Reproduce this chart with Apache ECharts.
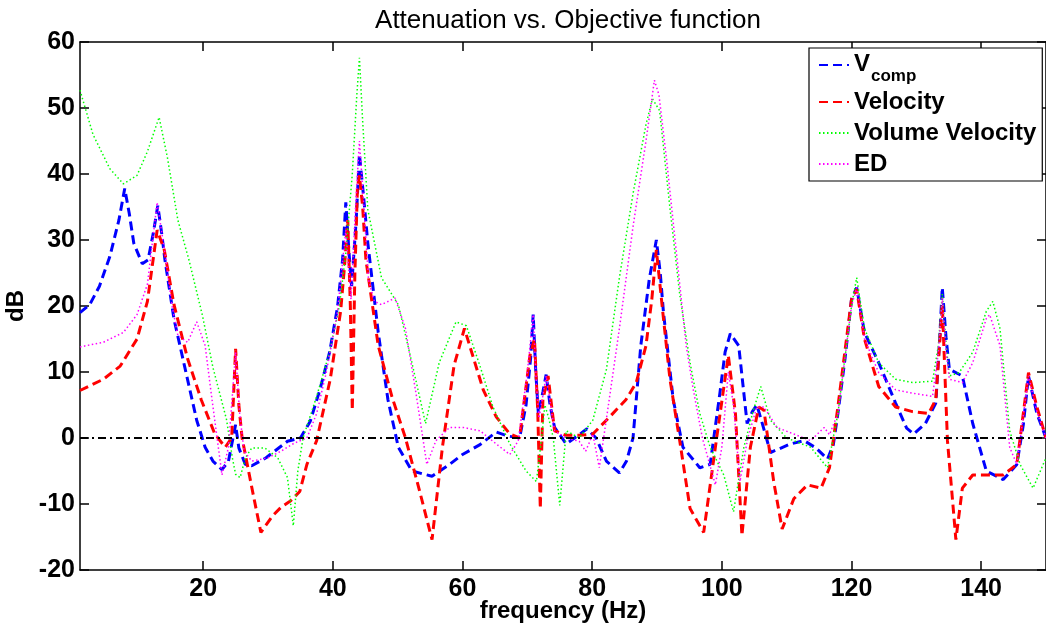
<!DOCTYPE html>
<html><head><meta charset="utf-8">
<script src="https://cdn.jsdelivr.net/npm/echarts@6/dist/echarts.min.js"></script>
<style>html,body{margin:0;padding:0;background:#fff}#c{width:1046px;height:631px}</style>
</head><body><div id="c"></div>
<script>
const FONT = "'Liberation Sans', Arial, Helvetica, sans-serif";
const xTicks = [20, 40, 60, 80, 100, 120, 140];
const seriesNames = ['Vcomp', 'Velocity', 'Volume Velocity', 'ED'];

// [frequency (Hz), dB]
const vcomp = [[1,19],[2.5,20.2],[4,23],[5.6,27.5],[7,33],[7.9,37.8],[8.6,34],[9.3,29.5],[10.6,26.4],[11.5,27],[12.3,31],[13,35.2],[13.6,31],[14.1,27],[15.5,18],[17.1,11],[19,2.7],[20.3,-1.4],[21.5,-3.5],[22.9,-4.8],[23.9,-3.5],[24.6,0],[25,2],[25.5,-1.5],[26.5,-4],[27.5,-4.2],[29.7,-3],[31.8,-1.4],[33,-0.5],[35,0],[36.5,2.5],[38,7.3],[39.5,13],[40.7,19.7],[41.5,27],[42,35.7],[42.5,28],[42.9,23],[43.6,33],[44.1,43],[44.7,37],[45.4,29.5],[47,16],[48.5,5.8],[50.1,-1.4],[52.2,-5],[55.3,-5.8],[58,-4],[60,-2.5],[62.7,-1],[65.2,0.9],[67,0.3],[68.8,0],[69.8,5],[70.5,12],[70.9,18.7],[71.3,10],[71.7,3.7],[72.4,7],[72.9,9.6],[73.5,5],[74.2,1.6],[76,-0.9],[78,0.5],[79.2,1.4],[80.6,0],[82.2,-3.5],[84.2,-5.3],[85.3,-3.5],[86.3,0],[87.5,14],[88.8,24],[89.9,30],[90.5,25],[91,19],[92.5,5.8],[94,-1.4],[96.6,-4.5],[98.2,-4],[99.7,6.8],[100.5,13],[101.3,15.8],[102.6,14],[103.9,2.2],[104.7,4],[105.4,5],[106.3,2],[107.5,-2.2],[110.6,-0.9],[112.7,-0.4],[114.5,-1.5],[116.3,-3.2],[117.2,-1],[117.9,3.7],[119,12],[120,21],[120.8,22.8],[122,16],[124.2,11.4],[126.8,5.3],[128.5,1.5],[129.6,0.6],[131.4,2.2],[133,5.3],[133.6,15],[134,22.8],[134.6,15],[135.1,10.4],[137.1,9.4],[138.7,2.2],[140.8,-5],[143.4,-6.3],[145.5,-4],[146.5,2],[147.3,9.4],[148.6,3.7],[150,0]];

const velocity = [[1,7.2],[4.6,8.9],[7.2,10.9],[9.8,15],[11.4,20.7],[12.9,31.5],[14,28.5],[15.5,20.2],[17.6,12],[19.7,5.8],[21.8,0.6],[23.4,-1.4],[24.4,0],[25,13.5],[25.5,5],[26,0],[27.6,-8],[28.9,-14.3],[30.7,-11.8],[32,-10.5],[33.5,-9.5],[34.9,-8.1],[36,-4],[37.5,-0.4],[39.6,8.9],[41.2,19.2],[41.8,26],[42.3,33],[42.7,20],[43,4.2],[43.4,25],[43.8,38],[44.1,39.8],[44.6,35],[45.1,27],[47,14],[49.1,6.3],[51.2,0],[53.4,-8.1],[55.3,-15.4],[56.9,-1.4],[58.7,11],[60.3,16.6],[61.1,14],[63.2,7.3],[65.2,3.2],[67.3,0.6],[68.8,0],[70.4,12.5],[71.1,15],[71.6,4.2],[72,-10.7],[72.4,5.8],[73.2,9.4],[74.2,1.1],[76,0.4],[78,0.4],[80.1,0.6],[82.7,3.2],[85.2,5.8],[86.8,8.4],[88.3,14],[89.2,21],[89.9,28.5],[90.9,19],[92,8.9],[93.5,-0.4],[95.1,-10.7],[97.2,-14.3],[99.2,0],[101,12.5],[102.1,3.7],[103.1,-14.8],[104.4,-1.4],[105.7,4.7],[106.5,4.2],[108,-6.6],[109.3,-13.8],[111.1,-9.2],[113.2,-7.1],[115.3,-7.6],[116.6,-4.5],[117.9,4.7],[120,21],[120.8,22.5],[122,15],[124.2,7.8],[126.8,4.7],[129.4,4],[131.9,3.7],[133,5.8],[134,20.2],[134.8,-0.4],[136.1,-15.4],[137.1,-7.6],[138.7,-5.6],[140.8,-5.6],[143.4,-5.6],[145.5,-4],[147.3,9.9],[148.6,4.7],[150,0]];

const volumeVelocity = [[1,52.7],[3,46],[5.6,40.8],[7.7,38.5],[9.8,39.8],[11.4,43.4],[13.2,48.6],[14.5,42.4],[16.1,33],[17.8,27],[19.9,18.5],[21.5,10.7],[23.6,2.8],[24.5,-3],[25,-5.5],[25.7,-6],[26.5,-3],[27.5,-1.5],[29.5,-1.5],[31.5,-3],[33,-6],[33.9,-13.3],[34.6,-5],[35.4,0],[37.5,6.3],[39.5,13],[41,20],[42,28],[43,40],[43.7,52],[44.1,57.6],[44.6,48],[45.4,34.6],[47.5,24.3],[50.1,20.2],[52.2,11.4],[54.3,2.2],[56.4,11.4],[59,17.6],[60.6,17],[62.7,10.9],[64.7,4.7],[67.3,-0.9],[69.8,-5],[71.4,-6.6],[72.2,0],[72.7,5],[73.3,3],[74,0],[75,-10.2],[76,1.1],[78,0],[80.1,2.7],[82.2,10.4],[84.2,24.3],[86.3,37],[88.3,47.5],[89.3,51.4],[90.4,49.6],[90.9,45],[92,34.8],[93.5,21.8],[95.1,11.4],[96.6,3.7],[98.2,-1.4],[100.3,-5.6],[101.8,-11.2],[103.4,-1.4],[104.8,4],[106,7.8],[107.5,2.7],[110,0],[113.7,-1.4],[116.3,-4.5],[117.9,3.7],[120,20],[120.8,24.3],[122,16.6],[124.2,11.4],[126.8,8.9],[129.4,8.4],[132.5,8.6],[133.4,14],[134,21.8],[134.6,14],[135.1,9.4],[136.6,9.9],[138.7,13],[140.8,19.2],[141.8,20.7],[142.9,16.6],[144.4,1.1],[146,-4],[148,-7.6],[150,-3]];

const ed = [[1,13.8],[4.6,14.5],[7.7,16],[9.8,18.7],[11.4,23.3],[12.9,35.7],[14.2,27.4],[15.2,20],[16.1,15.5],[17.6,14.5],[19,17.6],[20.3,14],[21.3,6.3],[22.9,-5.6],[23.9,-1.4],[25,13],[25.6,4],[26.3,-2],[27.5,-3.5],[30,-3],[32,-2],[34,-0.8],[36,0],[37.5,3.7],[39,10],[40.7,19],[42,31.5],[42.8,21],[43.5,35],[44.1,45],[44.8,35],[45.5,24],[46.4,20.7],[47.5,20.2],[49.6,21.2],[51.2,16.6],[52.9,6.3],[54.5,-4],[55.9,-0.4],[58,1.6],[60.1,1.6],[62.7,1.1],[65.2,-0.9],[67.3,-2.5],[68.6,-0.4],[70,10],[70.9,18.7],[71.4,8],[71.8,3],[72.9,9.4],[74.2,1.1],[76,0],[78,-0.5],[79,-2],[80.1,0.6],[81.1,-4.5],[82.7,6.3],[84.2,16.6],[86.3,32],[88.3,45],[89.6,54.2],[90.3,52],[91.5,42],[93,28],[94.5,14],[95.6,7.3],[97,0],[99,-7.1],[100,-1.4],[101,10],[101.8,5],[102.8,-6.6],[104,0],[105.4,4.7],[106.5,4.7],[108.5,1.6],[111.1,0.6],[113.7,-0.4],[115.8,1.6],[116.6,0.5],[117.9,3.7],[120,20],[120.8,22.8],[122,15],[124.2,9.9],[126.8,7.3],[129.4,6.8],[132.5,6.3],[133.4,13],[134,21.2],[134.6,13],[135.1,8.9],[137.1,8.4],[138.7,11.4],[140.8,18.1],[141.3,18.7],[142.9,14],[144.4,-1.4],[145.5,-4],[147.3,9.4],[148.6,4],[150,0]];

const zeroLine = [[1,0],[150,0]];

const chart = echarts.init(document.getElementById('c'), null, {renderer: 'canvas'});
const axisLineStyle = {color: '#000', width: 1.5};
const tickLabel = {color: '#000', fontSize: 25, fontWeight: 'bold', fontFamily: FONT};

function lineSeries(name, data, color, width, type) {
  return {
    name, type: 'line', data, symbol: 'none', showSymbol: false,
    lineStyle: {color, width, type}, itemStyle: {color},
    animation: false
  };
}

chart.setOption({
  backgroundColor: '#fff',
  animation: false,
  title: {
    text: 'Attenuation vs. Objective function',
    left: 563, top: 3, textAlign: 'center',
    textStyle: {fontFamily: FONT, fontSize: 26, fontWeight: 'normal', color: '#000'}
  },
  grid: {left: 80, right: 0, top: 42, bottom: 61, containLabel: false, outerBoundsMode: 'none'},
  legend: {
    data: seriesNames,
    orient: 'vertical', left: 809, top: 48,
    backgroundColor: '#fff', borderColor: '#000', borderWidth: 1.2,
    padding: [4, 6, 3, 9],
    itemWidth: 30, itemHeight: 14, itemGap: 3, itemTextGap: 2,
    itemStyle: {opacity: 0, borderWidth: 0},
    formatter: n => n === 'Vcomp' ? '{b|V}{s|comp}' : n,
    textStyle: {
      fontFamily: FONT, fontSize: 24, fontWeight: 'bold', color: '#000', lineHeight: 28,
      rich: {
        b: {fontFamily: FONT, fontSize: 24, fontWeight: 'bold', color: '#000', lineHeight: 26, verticalAlign: 'top'},
        s: {fontFamily: FONT, fontSize: 17, fontWeight: 'bold', color: '#000', lineHeight: 20, verticalAlign: 'top', padding: [16, 0, 0, 1]}
      }
    }
  },
  xAxis: [{
    type: 'value', min: 1, max: 150, position: 'bottom',
    axisLine: {show: true, onZero: false, lineStyle: axisLineStyle},
    axisTick: {show: true, inside: true, length: 9, customValues: xTicks, lineStyle: axisLineStyle},
    axisLabel: Object.assign({customValues: xTicks, margin: 7}, tickLabel),
    splitLine: {show: false},
    name: 'frequency (Hz)', nameLocation: 'middle', nameGap: 29, nameMoveOverlap: false,
    nameTextStyle: {fontFamily: FONT, fontSize: 24, fontWeight: 'bold', color: '#000'}
  }, {
    type: 'value', min: 1, max: 150, position: 'top',
    axisLine: {show: true, onZero: false, lineStyle: axisLineStyle},
    axisTick: {show: true, inside: true, length: 9, customValues: xTicks, lineStyle: axisLineStyle},
    axisLabel: {show: false},
    splitLine: {show: false}
  }],
  yAxis: [{
    type: 'value', min: -20, max: 60, interval: 10, position: 'left',
    axisLine: {show: true, onZero: false, lineStyle: axisLineStyle},
    axisTick: {show: true, inside: true, length: 9, lineStyle: axisLineStyle},
    axisLabel: Object.assign({margin: 5}, tickLabel),
    splitLine: {show: false},
    name: 'dB', nameLocation: 'middle', nameGap: 52, nameMoveOverlap: false,
    nameTextStyle: {fontFamily: FONT, fontSize: 24, fontWeight: 'bold', color: '#000'}
  }, {
    type: 'value', min: -20, max: 60, interval: 10, position: 'right',
    axisLine: {show: true, onZero: false, lineStyle: axisLineStyle},
    axisTick: {show: true, inside: true, length: 9, lineStyle: axisLineStyle},
    axisLabel: {show: false},
    splitLine: {show: false}
  }],
  series: [
    lineSeries('Vcomp', vcomp, '#0000ff', 3, [9, 5]),
    lineSeries('Velocity', velocity, '#ff0000', 3, [9, 5]),
    lineSeries('Volume Velocity', volumeVelocity, '#00ff00', 1.5, [1.5, 2.5]),
    lineSeries('ED', ed, '#ff00ff', 1.5, [1.5, 2.5]),
    Object.assign(lineSeries('zero', zeroLine, '#000000', 2, [8, 4, 2, 4]), {silent: true, z: 5})
  ]
});
</script>
</body></html>
